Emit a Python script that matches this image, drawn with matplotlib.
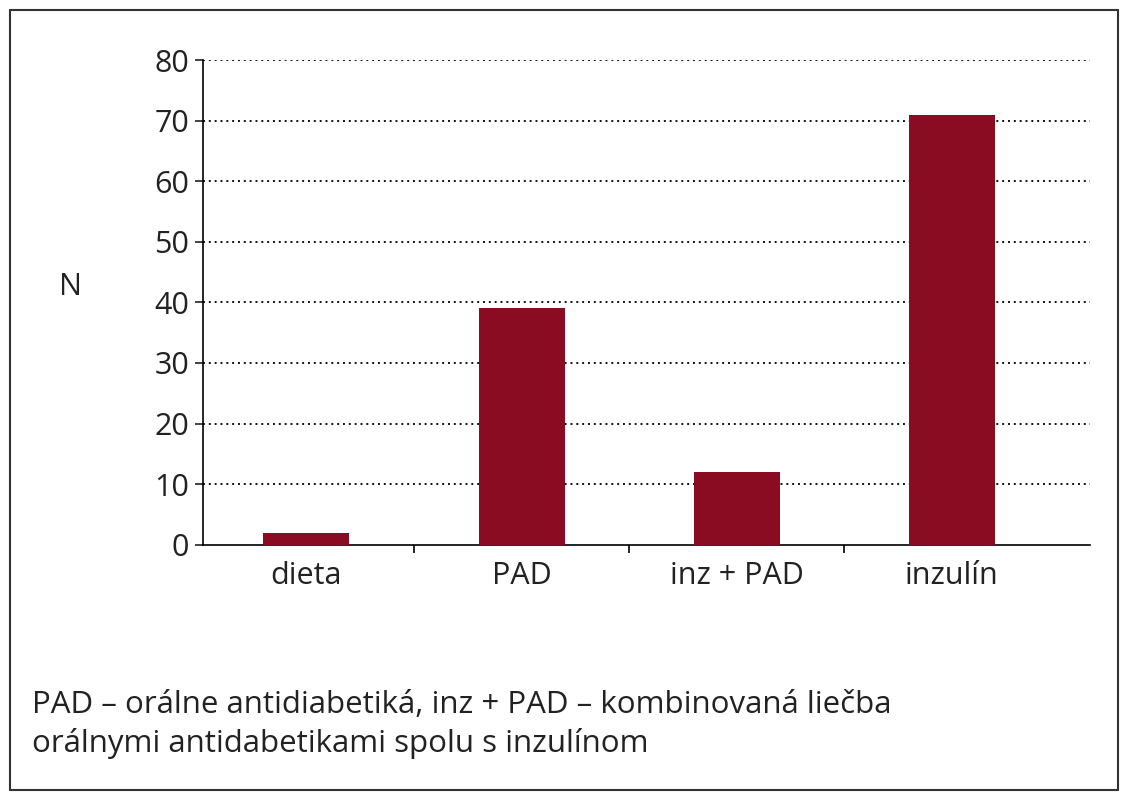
import matplotlib.pyplot as plt
from matplotlib.patches import Rectangle

categories = ["dieta", "PAD", "inz + PAD", "inzulín"]
values = [2, 39, 12, 71]
y_ticks = [0, 10, 20, 30, 40, 50, 60, 70, 80]
caption = ("PAD – orálne antidiabetiká, inz + PAD – kombinovaná liečba\n"
           "orálnymi antidabetikami spolu s inzulínom")

plt.rcParams['font.family'] = ['Open Sans', 'DejaVu Sans']

fig = plt.figure(figsize=(11.41, 8.0), dpi=100)
fig.patches.append(Rectangle((0.009, 0.012), 0.971, 0.975, transform=fig.transFigure,
                             fill=False, edgecolor='#333333', linewidth=1.5))

ax = fig.add_axes([0.178, 0.319, 0.777, 0.606])
x = range(len(categories))
ax.bar(x, values, width=0.40, color='#8a0c22', zorder=3)

ax.set_xlim(-0.48, 3.64)
ax.set_ylim(0, 80)
ax.set_yticks(y_ticks)
ax.tick_params(axis='y', labelsize=22, length=6, width=1.2, pad=4, colors='#222222')
ax.set_xticks(list(x))
ax.set_xticklabels(categories)
ax.tick_params(axis='x', labelsize=22, length=0, pad=12, colors='#222222')
# small ticks between categories
ax.set_xticks([0.5, 1.5, 2.5], minor=True)
ax.tick_params(axis='x', which='minor', length=6, width=1.2)

for v in y_ticks[1:]:
    ax.axhline(v, color='#111111', linestyle=(0, (1, 2)), linewidth=1.4, zorder=1)

for s in ['top', 'right']:
    ax.spines[s].set_visible(False)
ax.spines['left'].set_linewidth(1.2)
ax.spines['bottom'].set_linewidth(1.2)

ax.set_ylabel("N", fontsize=22, rotation=0, color='#222222')
ax.yaxis.set_label_coords(-0.15, 0.5)

fig.text(0.028, 0.06, caption, fontsize=22.5, color='#222222', linespacing=1.35)

fig.savefig("out.png", dpi=100)
